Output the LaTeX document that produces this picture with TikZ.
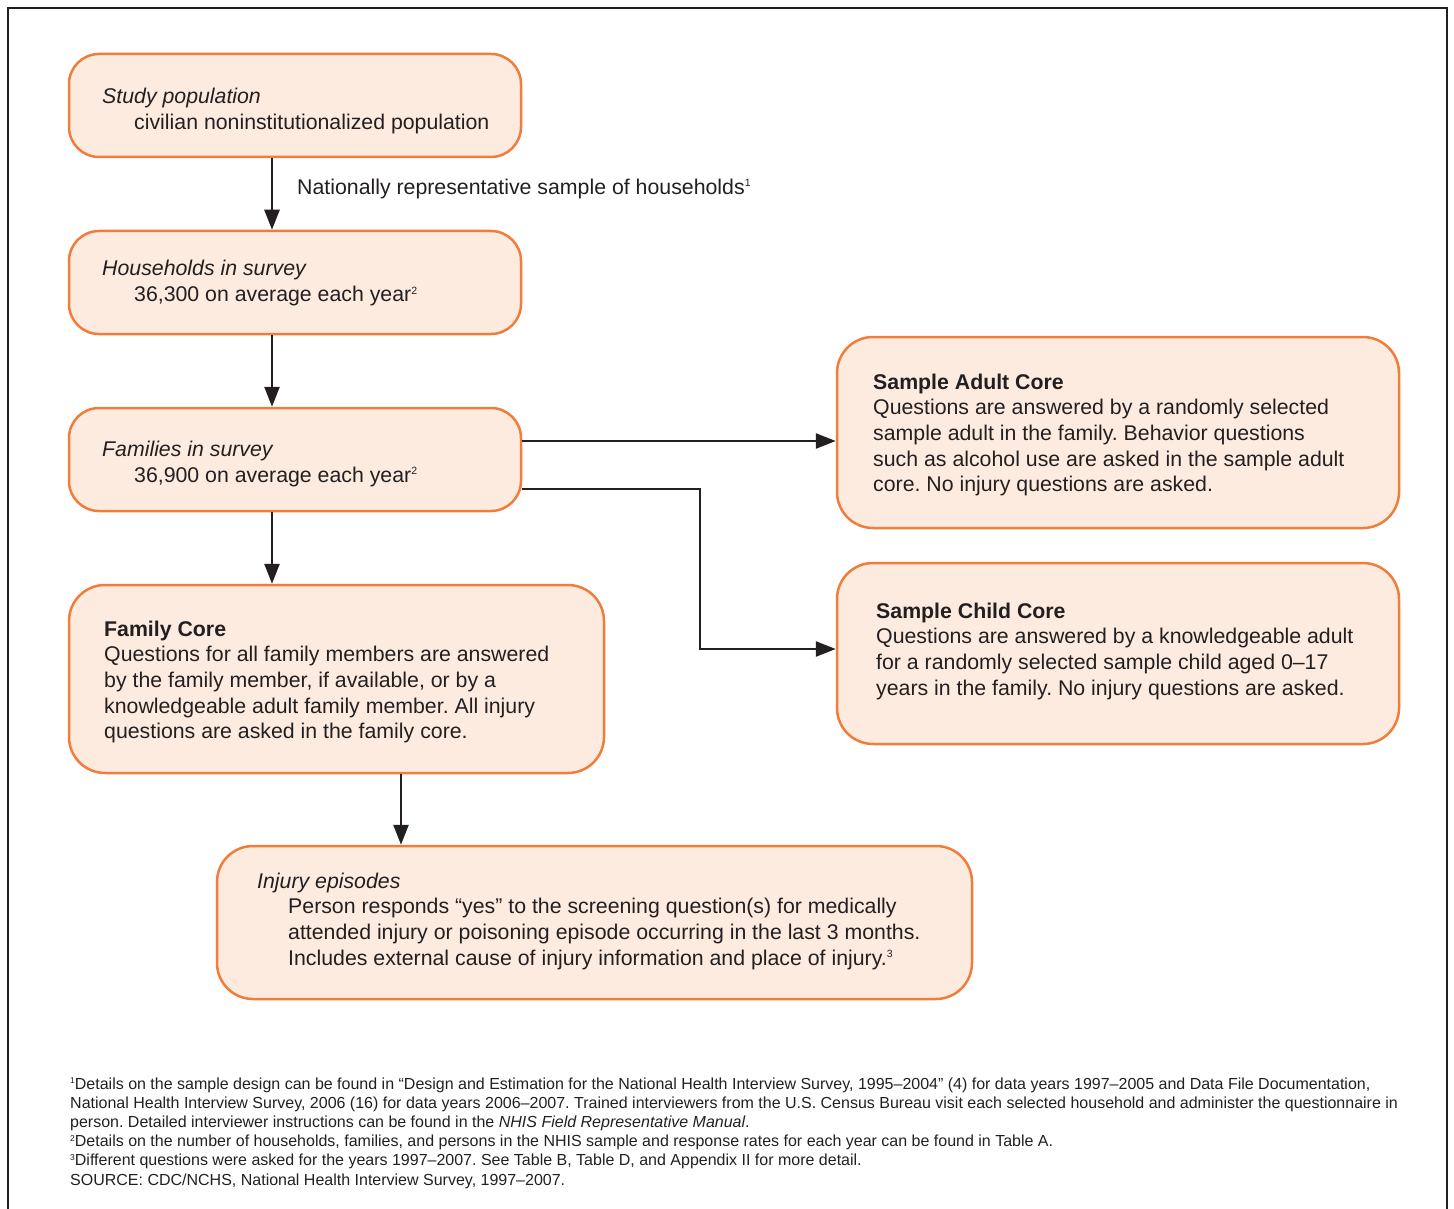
\documentclass[tikz,border=0pt]{standalone}
\usepackage{fontspec}
\setmainfont{Liberation Sans}
\usetikzlibrary{arrows.meta}
\definecolor{boxfill}{HTML}{FDEBE0}
\definecolor{boxline}{HTML}{F27C3A}
\definecolor{ink}{HTML}{231F20}
\frenchspacing
\newcommand\supr[1]{\raisebox{0.36em}{\fontsize{10.5}{10.5}\selectfont #1}}
\newcommand\fnsup[1]{\raisebox{0.34em}{\fontsize{8.5}{8.5}\selectfont #1}}
\newcommand\mainsz{\fontsize{21.3}{25.7}\selectfont}
\newcommand\fnsz{\fontsize{16}{19.2}\selectfont}
\newcommand\ind{\hspace*{32pt}}
\begin{document}
\begin{tikzpicture}[x=1pt,y=-1pt,
  box/.style={draw=boxline, fill=boxfill, line width=2.5pt, rounded corners=30pt, inner sep=0pt},
  txt/.style={anchor=base west, inner sep=0pt, text=ink, font=\mainsz},
  fn/.style={anchor=base west, inner sep=0pt, text=ink, font=\fnsz},
  arr/.style={draw=ink, line width=2.6pt, -{Triangle[length=20pt,width=15pt]}}]
\useasboundingbox (0,0) rectangle (1454,1209);
\clip (0,0) rectangle (1454,1209);
% frame
\draw[ink, line width=2pt] (8,1215) -- (8,8) -- (1447,8) -- (1447,1215);

% boxes
\node[box, minimum width=452pt, minimum height=103pt] (study) at (295,105.5) {};
\node[box, minimum width=452pt, minimum height=103pt] (hh) at (295,282.5) {};
\node[box, minimum width=452pt, minimum height=103pt] (fam) at (295,459.5) {};
\node[box, minimum width=535pt, minimum height=188pt, rounded corners=36pt] (fc) at (336.5,679) {};
\node[box, minimum width=755pt, minimum height=153pt, rounded corners=36pt] (inj) at (594.5,922.5) {};
\node[box, minimum width=562pt, minimum height=191pt, rounded corners=36pt] (adult) at (1118,432.5) {};
\node[box, minimum width=562pt, minimum height=181pt, rounded corners=36pt] (child) at (1118,653.5) {};

% texts
\node[txt] (studyT) at (102,104) {\begin{tabular}[t]{@{}l@{}}\textit{Study population}\\\ind civilian noninstitutionalized population\end{tabular}};
\node[txt] (hhT) at (102,276) {\begin{tabular}[t]{@{}l@{}}\textit{Households in survey}\\\ind 36,300 on average each year\supr{2}\end{tabular}};
\node[txt] (famT) at (102,456.5) {\begin{tabular}[t]{@{}l@{}}\textit{Families in survey}\\\ind 36,900 on average each year\supr{2}\end{tabular}};
\node[txt] (fcT) at (104,636) {\begin{tabular}[t]{@{}l@{}}\textbf{Family Core}\\Questions for all family members are answered\\by the family member, if available, or by a\\knowledgeable adult family member. All injury\\questions are asked in the family core.\end{tabular}};
\node[txt] (adultT) at (873,389) {\begin{tabular}[t]{@{}l@{}}\textbf{Sample Adult Core}\\Questions are answered by a randomly selected\\sample adult in the family. Behavior questions\\such as alcohol use are asked in the sample adult\\core. No injury questions are asked.\end{tabular}};
\node[txt] (childT) at (876,618) {\begin{tabular}[t]{@{}l@{}}\textbf{Sample Child Core}\\Questions are answered by a knowledgeable adult\\for a randomly selected sample child aged 0–17\\years in the family. No injury questions are asked.\end{tabular}};
\node[txt] (injT) at (257,888) {\begin{tabular}[t]{@{}l@{}}\textit{Injury episodes}\\\hspace*{31pt}Person responds “yes” to the screening question(s) for medically\\\hspace*{31pt}attended injury or poisoning episode occurring in the last 3 months.\\\hspace*{31pt}Includes external cause of injury information and place of injury.\supr{3}\end{tabular}};

% connectors
\coordinate (ax) at (272,0);
\coordinate (bx) at (401,0);
\coordinate (ay) at (0,441);
\coordinate (cy) at (0,489);
\coordinate (cx) at (700,0);
\coordinate (dy) at (0,649);
\draw[arr] (study.south -| ax) -- (hh.north -| ax);
\draw[arr] (hh.south -| ax) -- (fam.north -| ax);
\draw[arr] (fam.south -| ax) -- (fc.north -| ax);
\draw[arr] (fc.south -| bx) -- (inj.north -| bx);
\draw[arr] (fam.east |- ay) -- (adult.west |- ay);
\draw[arr] (fam.east |- cy) -- (cx |- cy) -- (cx |- dy) -- (child.west |- dy);
\node[txt] (lab) at (297,194.5) {Nationally representative sample of households\supr{1}};

% footnotes
\node[fn] (notes) at (70,1089) {\begin{tabular}[t]{@{}l@{}}\fnsup{1}Details on the sample design can be found in “Design and Estimation for the National Health Interview Survey, 1995–2004” (4) for data years 1997–2005 and Data File Documentation,\\National Health Interview Survey, 2006 (16) for data years 2006–2007. Trained interviewers from the U.S. Census Bureau visit each selected household and administer the questionnaire in\\person. Detailed interviewer instructions can be found in the \textit{NHIS Field Representative Manual}.\\\fnsup{2}Details on the number of households, families, and persons in the NHIS sample and response rates for each year can be found in Table A.\\\fnsup{3}Different questions were asked for the years 1997–2007. See Table B, Table D, and Appendix II for more detail.\\SOURCE: CDC/NCHS, National Health Interview Survey, 1997–2007.\end{tabular}};
\end{tikzpicture}
\end{document}
